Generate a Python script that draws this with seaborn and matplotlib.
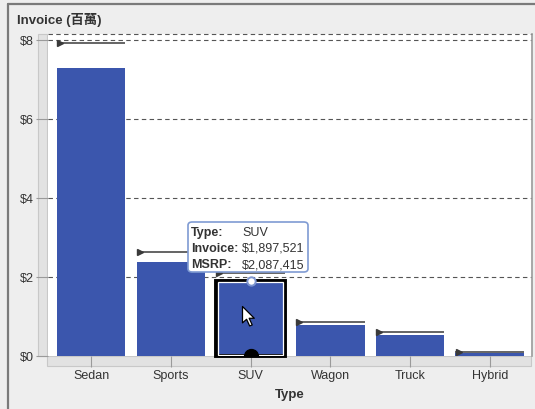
import numpy as np
import pandas as pd
import matplotlib
matplotlib.use("Agg")
import matplotlib.pyplot as plt
import matplotlib.patches as mpatches
import matplotlib.path as mpath
import seaborn as sns

# values in millions of dollars
car_types = ["Sedan", "Sports", "SUV", "Wagon", "Truck", "Hybrid"]
invoice = [7.28, 2.38, 1.897521, 0.77, 0.525, 0.06]
msrp = [7.92, 2.63, 2.087415, 0.855, 0.60, 0.10]
y_ticks = [0, 2, 4, 6, 8]
y_tick_labels = ["$0", "$2", "$4", "$6", "$8"]
selected = "SUV"
tip_labels = ["Type:", "Invoice:", "MSRP:"]
tip_values = ["SUV", "$1,897,521", "$2,087,415"]

BAR = "#3B56AD"
BG = "#EEEEEE"
W, H = 535, 410

df = pd.DataFrame({"Type": car_types, "Invoice": invoice, "MSRP": msrp})

sns.set_theme(style="white")
plt.rcParams["font.family"] = ["Liberation Sans", "Noto Sans CJK TC", "DejaVu Sans"]

fig = plt.figure(figsize=(W / 100, H / 100), dpi=100, facecolor=BG)


def fx(px):
    return px / W


def fy(py):
    return 1 - py / H


# outer frame lines (top, left)
fig.add_artist(plt.Line2D([fx(8), fx(535)], [fy(5), fy(5)], color="#7A7A7A", lw=1.6))
fig.add_artist(plt.Line2D([fx(8), fx(8)], [fy(5), fy(410)], color="#7A7A7A", lw=1.6))

# axis bands (grey strips under the axes)
fig.add_artist(mpatches.Rectangle((fx(38), fy(357)), fx(9), fy(35) - fy(357),
                                  transform=fig.transFigure, facecolor="#E2E2E2",
                                  edgecolor="#C8C8C8", lw=0.8, zorder=-1))
fig.add_artist(mpatches.Rectangle((fx(47), fy(367)), fx(484), fy(357) - fy(367),
                                  transform=fig.transFigure, facecolor="#E2E2E2",
                                  edgecolor="#C8C8C8", lw=0.8, zorder=-1))

ax = fig.add_axes([fx(48), fy(356.5), fx(532 - 48), fy(35) - fy(356.5)])
ax.set_facecolor("white")

sns.barplot(data=df, x="Type", y="Invoice", ax=ax, color=BAR, width=0.86,
            saturation=1, edgecolor="none", zorder=2)

ax.set_xlim(-0.54, 5.53)
ax.set_ylim(0, 8.15)

# dashed reference grid
for v in y_ticks[1:]:
    ax.axhline(v, color="#555555", lw=0.8, ls=(0, (4, 3)), zorder=1)
ax.axhline(8.15, color="#555555", lw=0.8, ls=(0, (4, 3)), zorder=1, clip_on=False)

# MSRP markers on each bar
xs = np.arange(len(car_types))
half = 0.43
ax.hlines(df["MSRP"], xs - half, xs + half, color="#3A3A3A", lw=1.1, zorder=3)
ax.plot(xs - half + 0.04, df["MSRP"], ls="none", marker=">", ms=4.5,
        color="#3A3A3A", zorder=3)

# selected bar highlight
si = car_types.index(selected)
bar = ax.patches[si]
bx, bw, bh = bar.get_x(), bar.get_width(), bar.get_height()
ax.add_patch(mpatches.Rectangle((bx, 0), bw, bh, fill=False, edgecolor="black",
                                lw=2.8, zorder=4, clip_on=False))
dx, dy = 2.2 / 79.6, 2.2 / 39.4
ax.add_patch(mpatches.Rectangle((bx + dx, dy * 0.3), bw - 2 * dx, bh - dy, fill=False,
                                edgecolor="white", lw=0.9, zorder=4))
ax.plot(si, bh, marker="o", ms=6, mfc="white", mec="#7D95D0", mew=1.4, zorder=6,
        clip_on=False)
ax.plot(si, 0, marker="o", ms=10, color="black", zorder=6, clip_on=True)

# mouse cursor
cur = np.array([(0, 0), (0, -16), (4, -12.5), (7, -19), (9.5, -18), (6.5, -11.5),
                (11.5, -11.5), (0, 0)], dtype=float)
cursor = mpath.Path(cur, closed=True)
ax.plot(si - 9 / 79.6, (356 - 307) / 39.4, marker=cursor, ms=28, mfc="white",
        mec="black", mew=0.9, zorder=7)

# axes styling
for s in ["left", "bottom", "top"]:
    ax.spines[s].set_visible(False)
ax.spines["right"].set_color("#9A9A9A")
ax.spines["right"].set_linewidth(1.2)
ax.set_yticks(y_ticks)
ax.set_yticklabels(y_tick_labels)
ax.tick_params(axis="y", length=9, width=0.8, color="#9A9A9A", pad=1,
               labelsize=9, labelcolor="#333333", left=True)
ax.tick_params(axis="x", length=8, width=0.8, color="#9A9A9A", pad=2,
               labelsize=9, labelcolor="#333333", bottom=True, direction="out")
ax.set_xlabel("Type", fontsize=9.5, fontweight="bold", color="#333333", labelpad=5)
ax.set_ylabel("")

fig.text(fx(17), fy(20), "Invoice (百萬)", fontsize=9.5, fontweight="bold",
         color="#333333", va="center", ha="left")

# tooltip
tip = mpatches.FancyBboxPatch((fx(188), fy(273)), fx(120), fy(223) - fy(273),
                              boxstyle="round,pad=0,rounding_size=0.008",
                              transform=fig.transFigure, facecolor="white",
                              edgecolor="#7F9BD3", lw=1.2, zorder=10)
fig.add_artist(tip)
for i, (lab, val) in enumerate(zip(tip_labels, tip_values)):
    yy = fy(233 + 16 * i)
    fig.text(fx(191), yy, lab, fontsize=9, fontweight="bold", color="#333333",
             va="center", zorder=11)
    fig.text(fx(242), yy, val, fontsize=9, color="#333333", va="center", zorder=11)

fig.savefig("out.png", dpi=100, facecolor=BG)
